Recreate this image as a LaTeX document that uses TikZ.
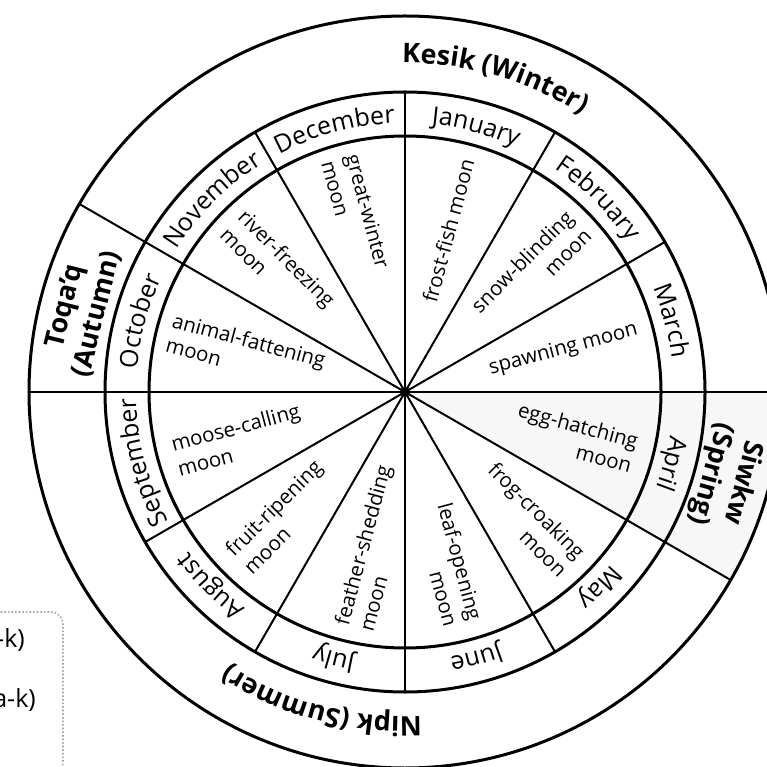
\documentclass[tikz,border=0pt]{standalone}
\usepackage{fontspec}
\setmainfont{Open Sans}
\usetikzlibrary{decorations.text}
\newcommand\ringtext[4]{\path[decorate,decoration={text along path,text align=center,text={|#3|#4}}] (0,0) ++(#1+50:#2) arc[start angle=#1+50,end angle=#1-50,radius=#2];}
\begin{document}
\begin{tikzpicture}[x=1pt,y=1pt,
  ring/.style={line width=3pt},
  spoke/.style={line width=2pt},
  moon/.style={font=\fontsize{20.5}{25.5}\selectfont, inner sep=0pt},
  seas/.style={font=\bfseries\fontsize{27}{33}\selectfont, align=center, inner sep=0pt},
  legendtext/.style={font=\fontsize{25}{25}\selectfont, inner sep=0pt, anchor=east},
  legendbox/.style={draw=gray!70, dotted, line width=1.6pt, rounded corners=12pt}
]
\useasboundingbox (0,0) rectangle (767,766);
\clip (0,0) rectangle (767,766);
% legend box (partly visible)
\draw[legendbox] (-30,-9) rectangle (63,154);
\node[legendtext] (leg1) at (25,126) {-k)};
\node[legendtext] (leg2) at (36,66) {a-k)};
\begin{scope}[shift={(405,374)}]
\coordinate (C) at (0,0);
% spring shading
\fill[black!3] (C) -- (0:376pt) arc[start angle=0,end angle=-30,radius=376pt] -- cycle;
% circles
\draw[ring] (C) circle[radius=376pt];
\draw[ring] (C) circle[radius=300pt];
\draw[ring] (C) circle[radius=256pt];
% spokes
\foreach \a in {0,30,...,330} \draw[spoke] (C) -- (\a:300pt);
\foreach \a in {0,150,180,330} \draw[spoke] (\a:300pt) -- (\a:376pt);
\fill (C) circle[radius=5pt];
% months
\ringtext{75}{269pt}{\fontsize{25}{25}\selectfont}{January}
\ringtext{45}{269pt}{\fontsize{25}{25}\selectfont}{February}
\ringtext{15}{269pt}{\fontsize{25}{25}\selectfont}{March}
\ringtext{-15}{269pt}{\fontsize{25}{25}\selectfont}{April}
\ringtext{-45}{269pt}{\fontsize{25}{25}\selectfont}{May}
\ringtext{-75}{269pt}{\fontsize{25}{25}\selectfont}{June}
\ringtext{-105}{269pt}{\fontsize{25}{25}\selectfont}{July}
\ringtext{-135}{269pt}{\fontsize{25}{25}\selectfont}{August}
\ringtext{-165}{269pt}{\fontsize{25}{25}\selectfont}{September}
\ringtext{165}{269pt}{\fontsize{25}{25}\selectfont}{October}
\ringtext{135}{269pt}{\fontsize{25}{25}\selectfont}{November}
\ringtext{105}{269pt}{\fontsize{25}{25}\selectfont}{December}
% seasons
\ringtext{74}{329pt}{\bfseries\fontsize{27}{27}\selectfont}{Kesik (Winter)}
\ringtext{-105}{325pt}{\bfseries\fontsize{27}{27}\selectfont}{Nipk (Summer)}
\node[seas, rotate=76] (autumn) at (165.8:334pt) {Toqa’q\\(Autumn)};
\node[seas, rotate=-105] (spring) at (-15:333pt) {Siwkw\\(Spring)};
% moons
\node[moon, rotate=75] (m1) at (75:167pt) {frost-fish moon};
\node[moon, rotate=45, align=right] (m2) at (44:175pt) {snow-blinding\\moon};
\node[moon, rotate=15] (m3) at (15:164pt) {spawning moon};
\node[moon, rotate=-15, align=right] (m4) at (-15:176pt) {egg-hatching\\moon};
\node[moon, rotate=-45, align=right] (m5) at (-46:177pt) {frog-croaking\\moon};
\node[moon, rotate=-75, align=right] (m6) at (-76:178pt) {leaf-opening\\moon};
\node[moon, rotate=75, align=left] (m7) at (-101:159pt) {feather-shedding\\moon};
\node[moon, rotate=45, align=left] (m8) at (-134.5:175pt) {fruit-ripening\\moon};
\node[moon, rotate=15, align=left] (m9) at (196:173pt) {moose-calling\\moon};
\node[moon, rotate=-15, align=left] (m10) at (166:164pt) {animal-fattening\\moon};
\node[moon, rotate=-45, align=left] (m11) at (135.5:178pt) {river-freezing\\moon};
\node[moon, rotate=-75, align=left] (m12) at (105.5:184pt) {great-winter\\moon};
\end{scope}
\end{tikzpicture}
\end{document}
